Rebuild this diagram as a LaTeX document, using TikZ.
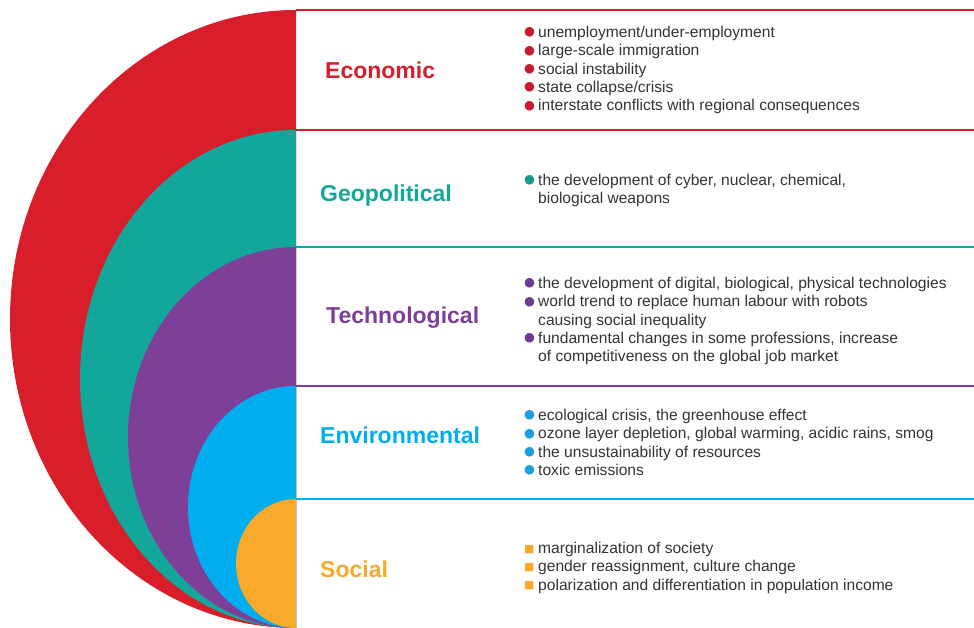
\documentclass[tikz,border=0pt]{standalone}
\usepackage{fontspec}
\setmainfont{Liberation Sans}
\newfontfamily\symfont{DejaVu Sans}
\usepackage{tikz}

\definecolor{ecored}{HTML}{D81E2B}
\definecolor{geoteal}{HTML}{13A79C}
\definecolor{techpurple}{HTML}{7E3F98}
\definecolor{envblue}{HTML}{00ADEE}
\definecolor{socorange}{HTML}{F9A92B}
\definecolor{bodygray}{HTML}{333333}
\definecolor{dotred}{HTML}{C81A30}
\definecolor{dotpurple}{HTML}{6E3C8E}
\definecolor{dotblue}{HTML}{1B9FDA}
\definecolor{dotteal}{HTML}{1A9A86}

\newcommand{\itm}[1]{\makebox[14pt][l]{\raisebox{1.6pt}{\textcolor{#1}{\symfont\fontsize{12.5}{12.5}\selectfont ●}}}}
\newcommand{\sqitm}[1]{\makebox[14pt][l]{\raisebox{1.2pt}{\textcolor{#1}{\symfont\fontsize{11}{11}\selectfont ■}}}}
\newcommand{\cnt}{\hspace*{14pt}}

\begin{document}
\begin{tikzpicture}[
  x=1pt, y=-1pt,
  title/.style={anchor=base west, inner sep=0pt, font=\fontsize{23}{25}\selectfont\bfseries},
  items/.style={anchor=north west, align=left, inner sep=0pt, text=bodygray,
    font=\fontsize{15.6}{18.3}\selectfont},
  bandline/.style={line width=1.8pt}
]
  \useasboundingbox (0,0) rectangle (974,628);

  % Half discs
  \begin{scope}
    \clip (0,0) rectangle (296,628);
    \fill[ecored] (296,319) ellipse [x radius=286, y radius=309];
    \fill[geoteal] (296,379) ellipse [x radius=216, y radius=249];
    \fill[techpurple] (296,437.5) ellipse [x radius=168, y radius=190.5];
    \fill[envblue] (296,507) ellipse [x radius=108, y radius=121];
    \fill[socorange] (296,563.5) ellipse [x radius=60, y radius=64.5];
  \end{scope}

  % Band lines
  \draw[bandline, ecored] (296,10) -- (974,10);
  \draw[bandline, ecored] (296,130) -- (974,130);
  \draw[bandline, geoteal] (296,247) -- (974,247);
  \draw[bandline, techpurple] (296,386) -- (974,386);
  \draw[bandline, envblue] (296,499) -- (974,499);

  % Titles
  \node[title, text=ecored] (eco) at (325,79) {Economic};
  \node[title, text=geoteal] (geo) at (320,202) {Geopolitical};
  \node[title, text=techpurple] (tech) at (326,323) {Technological};
  \node[title, text=envblue] (env) at (320,443) {Environmental};
  \node[title, text=socorange] (soc) at (320,577) {Social};

  % Lists
  \node[items] (ecoL) at (524,26) {%
    \itm{dotred}unemployment/under-employment\\
    \itm{dotred}large-scale immigration\\
    \itm{dotred}social instability\\
    \itm{dotred}state collapse/crisis\\
    \itm{dotred}interstate conflicts with regional consequences};
  \node[items] (geoL) at (524,174) {%
    \itm{dotteal}the development of cyber, nuclear, chemical,\\
    \cnt biological weapons};
  \node[items] (techL) at (524,277) {%
    \itm{dotpurple}the development of digital, biological, physical technologies\\
    \itm{dotpurple}world trend to replace human labour with robots\\
    \cnt causing social inequality\\
    \itm{dotpurple}fundamental changes in some professions, increase\\
    \cnt of competitiveness on the global job market};
  \node[items] (envL) at (524,409) {%
    \itm{dotblue}ecological crisis, the greenhouse effect\\
    \itm{dotblue}ozone layer depletion, global warming, acidic rains, smog\\
    \itm{dotblue}the unsustainability of resources\\
    \itm{dotblue}toxic emissions};
  \node[items] (socL) at (524,542) {%
    \sqitm{socorange}marginalization of society\\
    \sqitm{socorange}gender reassignment, culture change\\
    \sqitm{socorange}polarization and differentiation in population income};
\end{tikzpicture}
\end{document}
